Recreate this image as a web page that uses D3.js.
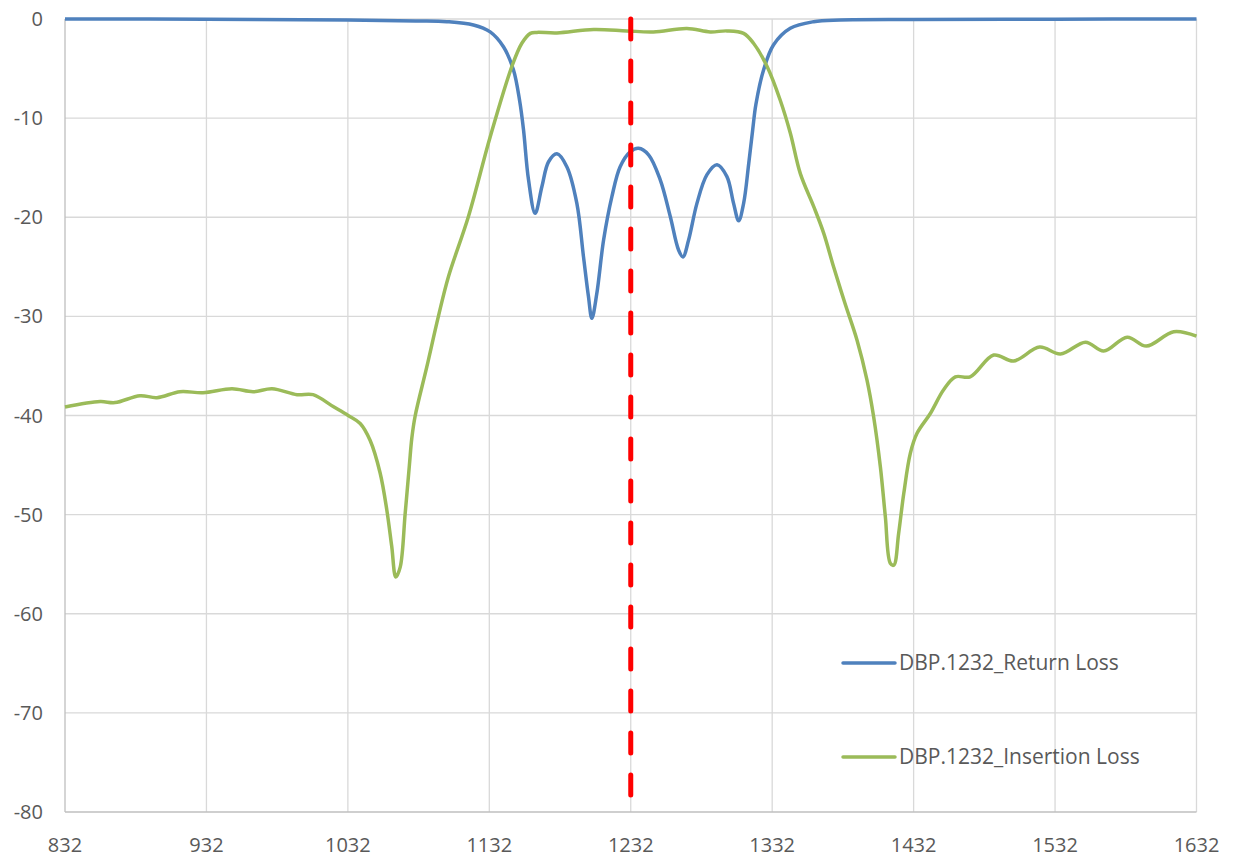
<!DOCTYPE html>
<html><head><meta charset="utf-8">
<script src="https://cdn.jsdelivr.net/npm/d3@7"></script>
<style>body{margin:0;background:#fff;} text{font-family:"Open Sans",Lato,sans-serif;}</style>
</head><body><svg id="c" width="1233" height="858"></svg>
<script>
const xTicks = [832, 932, 1032, 1132, 1232, 1332, 1432, 1532, 1632];
const yTicks = [0, -10, -20, -30, -40, -50, -60, -70, -80];
const seriesNames = ["DBP.1232_Return Loss", "DBP.1232_Insertion Loss"];
const centerFreq = 1232;

const returnLoss = [
  [832,0],[932,-0.02],[1032,-0.1],[1080,-0.2],[1102,-0.27],[1120.8,-0.6],[1132.6,-1.3],
  [1142,-2.8],[1149,-5.1],[1153.5,-8.3],[1156.2,-11.2],[1159.7,-16.2],[1164.4,-19.6],
  [1169.2,-16.9],[1173.9,-14.4],[1179.8,-13.6],[1186.8,-14.9],[1193.9,-18.6],
  [1198.6,-24.0],[1202.1,-28.0],[1204.5,-30.2],[1208,-27.7],[1212.8,-22.3],
  [1218.7,-17.9],[1224.5,-14.9],[1231.6,-13.4],[1237.5,-13.05],[1244.6,-13.7],
  [1252.8,-16.2],[1259.9,-19.9],[1265.8,-23.3],[1268.9,-24.0],[1272.9,-22.3],
  [1278.8,-18.6],[1285.9,-15.7],[1293,-14.7],[1300,-15.9],[1304.7,-18.6],
  [1308.3,-20.35],[1311.8,-18.6],[1315.4,-14.6],[1318.2,-11.2],[1320.5,-8.6],
  [1326,-5.1],[1333,-2.6],[1344.8,-0.94],[1361.3,-0.27],[1380,-0.1],
  [1432,-0.05],[1532,-0.02],[1632,0]
];

const insertionLoss = [
  [832,-39.15],[856.8,-38.6],[867.4,-38.7],[885,-38.0],[897,-38.2],[913.3,-37.6],
  [929.6,-37.7],[950.1,-37.3],[965,-37.6],[978.4,-37.3],[996.1,-37.9],[1007.4,-37.9],
  [1021.6,-39.1],[1032.2,-40.0],[1040.7,-40.8],[1047.7,-42.5],[1054.8,-45.8],
  [1059.5,-49.5],[1063,-53.2],[1065.9,-56.3],[1069,-55.3],[1072.5,-49.9],
  [1075.5,-45.0],[1077.2,-42.3],[1079.5,-40.1],[1087.8,-35.1],[1096,-30.0],
  [1103.1,-26.0],[1117.3,-19.9],[1132.6,-11.9],[1147.9,-4.8],[1155,-2.45],[1161,-1.45],
  [1165.6,-1.35],[1179.8,-1.4],[1205.7,-1.05],[1229.3,-1.2],[1248,-1.3],
  [1271.7,-0.95],[1288.2,-1.3],[1300,-1.2],[1311.8,-1.45],[1318.8,-2.45],
  [1328.4,-4.8],[1337.7,-8.2],[1344.8,-11.5],[1351.9,-15.6],[1361.3,-18.9],
  [1368.4,-21.6],[1375.4,-25],[1383.5,-28.7],[1392,-32.4],[1399,-36.4],
  [1403.7,-40.1],[1408.5,-45.2],[1412,-50.2],[1415.5,-54.9],[1418,-55.1],
  [1421.4,-51.9],[1425,-47.9],[1429.7,-43.8],[1434.4,-41.8],[1443.8,-39.8],
  [1453.2,-37.4],[1461.5,-36.1],[1472,-36.1],[1488.6,-33.9],[1502.7,-34.5],
  [1521.1,-33.1],[1535.8,-33.8],[1553.5,-32.6],[1566.4,-33.5],[1583,-32.1],
  [1596.6,-33.0],[1615.9,-31.55],[1632,-32.0]
];

const colors = ["#4F81BD", "#9BBB59"];

const svg = d3.select("#c");
const x = d3.scaleLinear().domain([832, 1632]).range([65, 1196.5]);
const y = d3.scaleLinear().domain([-80, 0]).range([812, 19]);

// gridlines
svg.append("g").selectAll("line").data(yTicks.filter(d => d !== -80)).join("line")
  .attr("x1", x(832)).attr("x2", x(1632)).attr("y1", d => y(d)).attr("y2", d => y(d))
  .attr("stroke", "#d9d9d9").attr("stroke-width", 1.3);
svg.append("g").selectAll("line").data(xTicks.filter(d => d !== 832)).join("line")
  .attr("x1", d => x(d)).attr("x2", d => x(d)).attr("y1", y(0)).attr("y2", y(-80))
  .attr("stroke", "#d9d9d9").attr("stroke-width", 1.3);

// axes lines
svg.append("line").attr("x1", x(832)).attr("x2", x(832)).attr("y1", y(0)).attr("y2", y(-80))
  .attr("stroke", "#bfbfbf").attr("stroke-width", 1.3);
svg.append("line").attr("x1", x(832)).attr("x2", x(1632)).attr("y1", y(-80)).attr("y2", y(-80))
  .attr("stroke", "#bfbfbf").attr("stroke-width", 1.3);

// tick labels
svg.append("g").selectAll("text").data(yTicks).join("text")
  .attr("x", 43).attr("y", d => y(d)).attr("dy", "0.35em")
  .attr("text-anchor", "end").attr("fill", "#595959").attr("font-size", 20)
  .text(d => d);
svg.append("g").selectAll("text").data(xTicks).join("text")
  .attr("x", d => x(d)).attr("y", 845).attr("dy", "0.35em")
  .attr("text-anchor", "middle").attr("fill", "#595959").attr("font-size", 20)
  .text(d => d);

const line = d3.line().x(d => x(d[0])).y(d => y(d[1])).curve(d3.curveCatmullRom.alpha(0.5));

[returnLoss, insertionLoss].forEach((s, i) => {
  svg.append("path").datum(s).attr("d", line).attr("fill", "none")
    .attr("stroke", colors[i]).attr("stroke-width", 3.5).attr("stroke-linejoin", "round");
});

// center marker
svg.append("line").attr("x1", x(centerFreq)).attr("x2", x(centerFreq))
  .attr("y1", y(0)).attr("y2", y(-80))
  .attr("stroke", "#FF0000").attr("stroke-width", 5)
  .attr("stroke-dasharray", "20,22").attr("stroke-linecap", "round");

// legend
const lg = svg.append("g");
seriesNames.forEach((n, i) => {
  const ly = [663, 757][i];
  lg.append("line").attr("x1", 843).attr("x2", 895).attr("y1", ly).attr("y2", ly)
    .attr("stroke", colors[i]).attr("stroke-width", 3.5).attr("stroke-linecap", "round");
  lg.append("text").attr("x", 899).attr("y", ly).attr("dy", "0.35em")
    .attr("fill", "#595959").attr("font-size", 21).text(n);
});
</script></body></html>
